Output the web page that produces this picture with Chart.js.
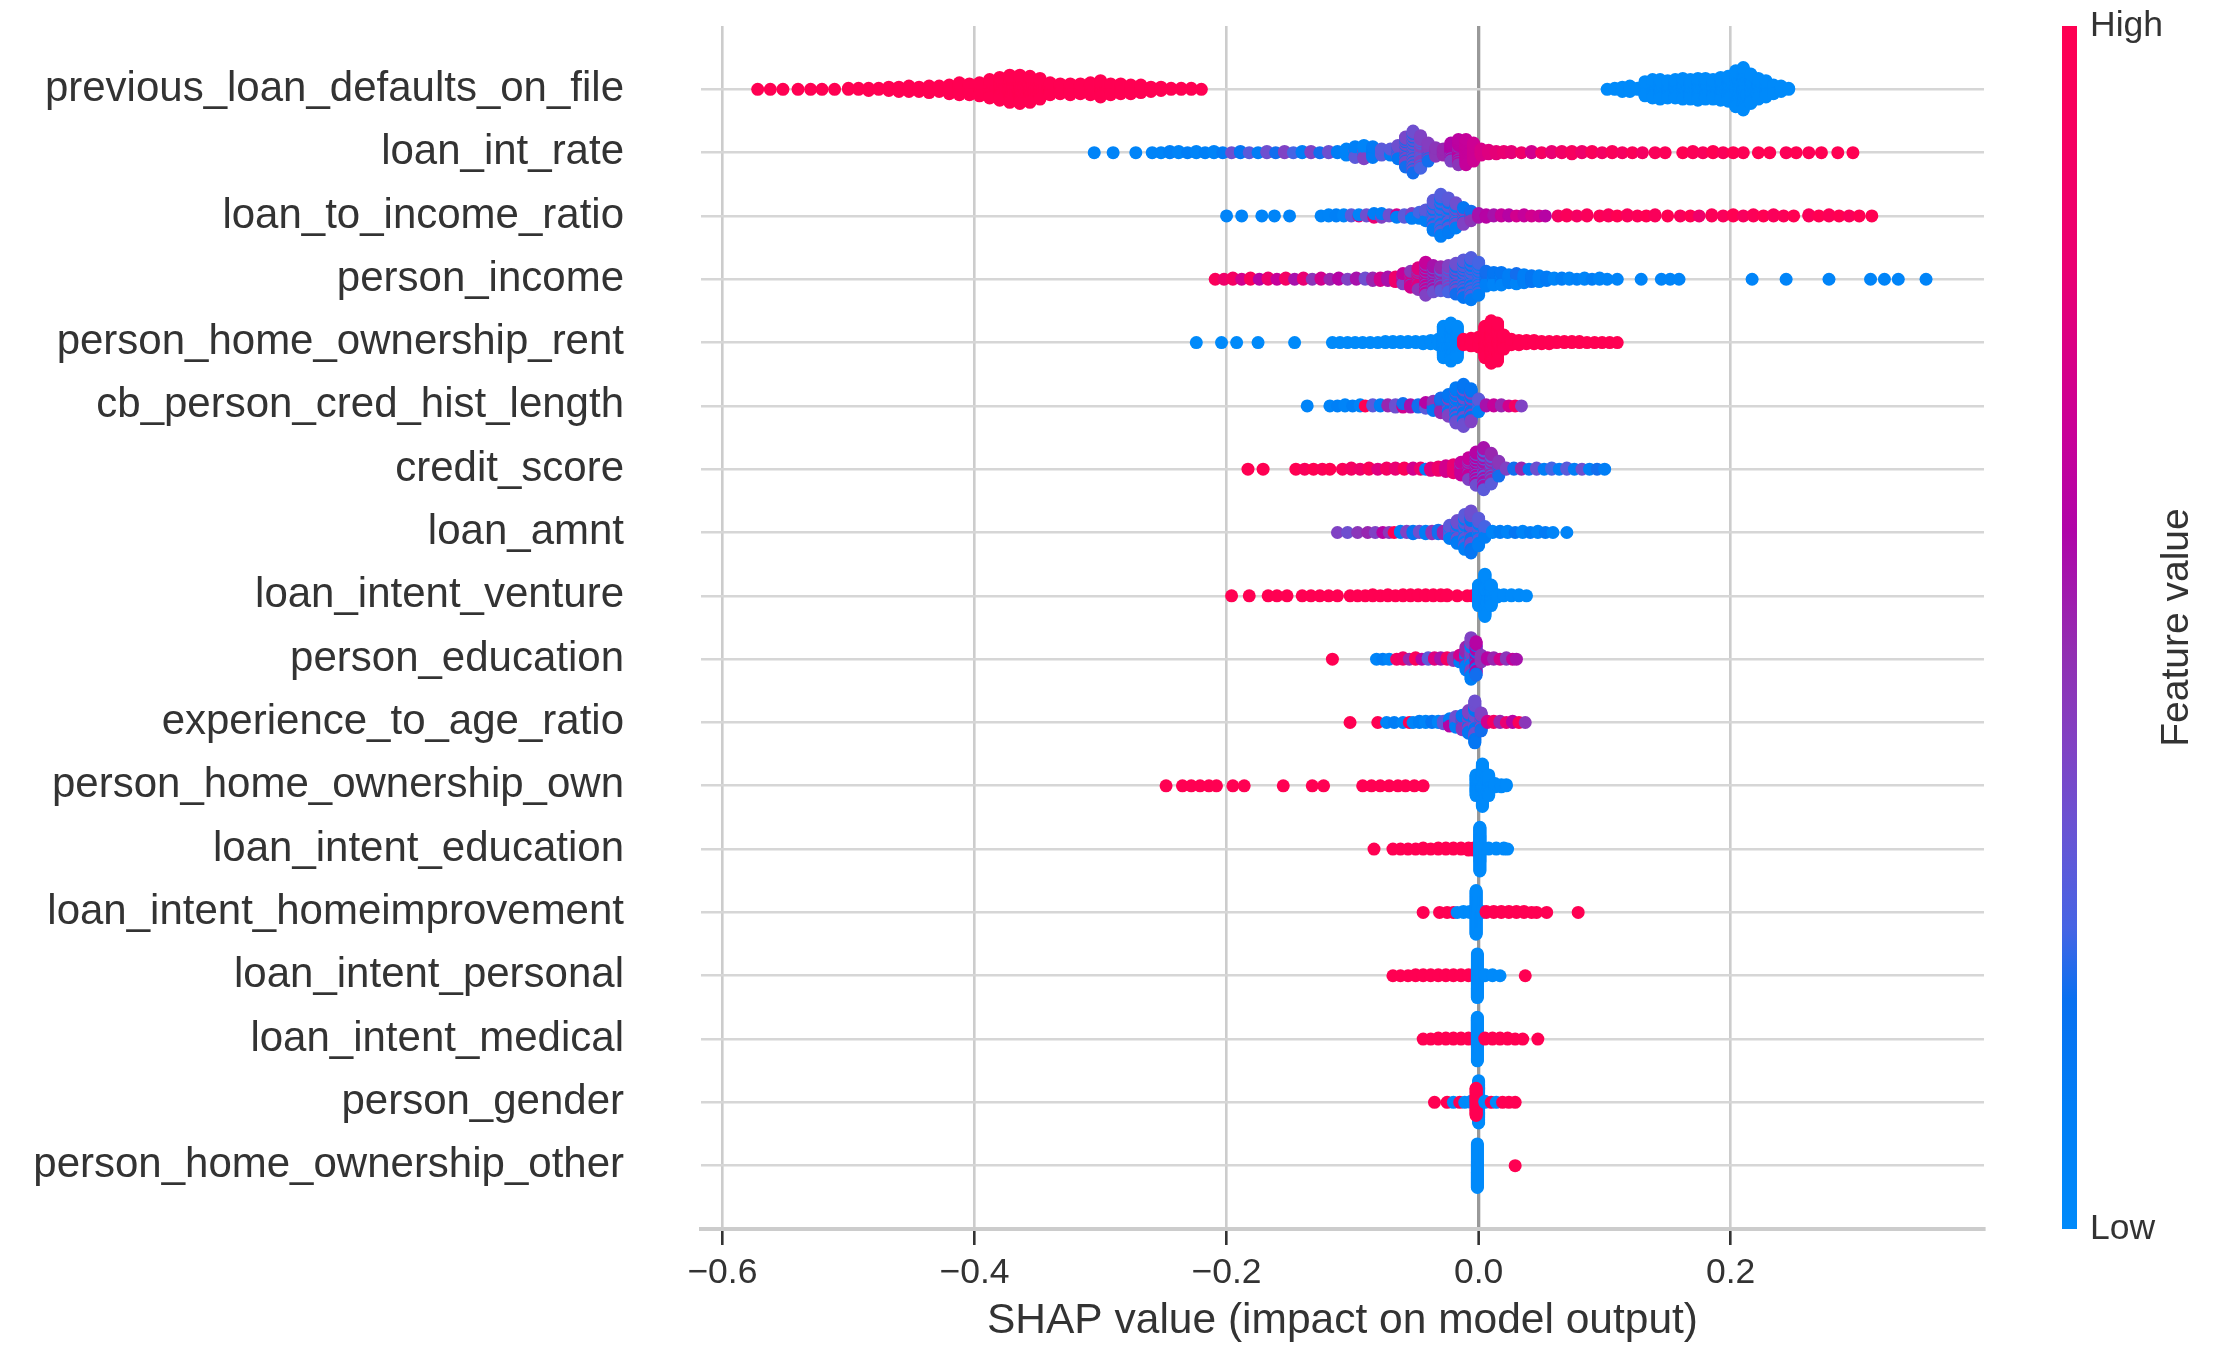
<!DOCTYPE html>
<html>
<head>
<meta charset="utf-8">
<script src="https://cdn.jsdelivr.net/npm/chart.js@4.4.1/dist/chart.umd.min.js"></script>
<style>
  html, body { margin: 0; padding: 0; background: #fff; }
  #wrap { width: 2214px; height: 1361px; }
</style>
</head>
<body>
<div id="wrap"><canvas id="shapChart" width="2214" height="1361"></canvas></div>
<script>
const features = [
  'previous_loan_defaults_on_file', 'loan_int_rate', 'loan_to_income_ratio', 'person_income',
  'person_home_ownership_rent', 'cb_person_cred_hist_length', 'credit_score', 'loan_amnt',
  'loan_intent_venture', 'person_education', 'experience_to_age_ratio', 'person_home_ownership_own',
  'loan_intent_education', 'loan_intent_homeimprovement', 'loan_intent_personal', 'loan_intent_medical',
  'person_gender', 'person_home_ownership_other'
];
const xTicks = [-0.6, -0.4, -0.2, 0.0, 0.2];
const xTickLabels = ['\u22120.6', '\u22120.4', '\u22120.2', '0.0', '0.2'];

// entries: [SHAP value, number of samples, feature value (0 = low, 1 = high)]
const previousLoanDefaultsOnFile = [
  [-0.572,1,1],[-0.562,1,1],[-0.552,1,1],[-0.540,1,1],[-0.530,1,1],[-0.521,1,1],[-0.511,1,1],
  [-0.500,2,1],[-0.492,2,1],[-0.484,3,1],[-0.476,2,1],[-0.468,4,1],[-0.460,5,1],[-0.452,6,1],[-0.444,5,1],
  [-0.436,7,1],[-0.428,6,1],[-0.420,9,1],[-0.412,12,1],[-0.404,11,1],[-0.396,13,1],[-0.388,18,1],[-0.380,22,1],
  [-0.372,26,1],[-0.364,27,1],[-0.356,25,1],[-0.348,20,1],[-0.340,12,1],[-0.332,10,1],[-0.324,11,1],[-0.316,10,1],
  [-0.308,12,1],[-0.300,16,1],[-0.292,11,1],[-0.284,10,1],[-0.276,9,1],[-0.268,8,1],[-0.260,5,1],[-0.252,4,1],
  [-0.244,2,1],[-0.236,2,1],[-0.228,2,1],[-0.220,1,1],
  [0.102,1,0],[0.108,2,0],[0.114,5,0],[0.120,6,0],[0.126,2,0],[0.132,14,0],[0.138,18,0],[0.144,19,0],
  [0.150,17,0],[0.156,18,0],[0.162,20,0],[0.168,19,0],[0.174,21,0],[0.180,20,0],[0.186,19,0],[0.192,22,0],
  [0.198,24,0],[0.204,34,0],[0.210,40,0],[0.216,28,0],[0.222,20,0],[0.228,16,0],[0.234,9,0],[0.240,6,0],[0.246,2,0]
];
const loanIntRate = [
  [-0.305,1,.05],[-0.290,1,.05],[-0.272,1,.05],[-0.259,1,.05],[-0.252,1,.05],[-0.245,2,.08],[-0.238,2,.05],
  [-0.231,1,.1],[-0.224,2,.05],[-0.217,1,.08],[-0.210,2,.06],[-0.203,1,.12],
  [-0.196,1,.35],[-0.189,2,.15],[-0.182,1,.3],[-0.175,1,.1],[-0.168,2,.35],[-0.161,1,.2],[-0.154,2,.4],
  [-0.147,1,.25],[-0.140,2,.1],[-0.133,2,.4],[-0.126,1,.2],[-0.119,2,.35],[-0.112,2,.1],
  [-0.105,6,.06],[-0.098,6,.08],[-0.098,4,.3],[-0.091,7,.05],[-0.091,5,.4],[-0.084,10,.12],[-0.077,6,.3],
  [-0.070,4,.3],[-0.070,2,.1],[-0.064,8,.35],[-0.064,4,.15],[-0.058,18,.38],[-0.058,8,.2],[-0.052,24,.35],
  [-0.052,12,.2],[-0.046,20,.4],[-0.046,8,.25],[-0.040,12,.42],[-0.040,4,.2],[-0.034,8,.45],[-0.028,6,.5],
  [-0.022,12,.58],[-0.022,4,.4],[-0.016,16,.62],[-0.016,6,.45],[-0.010,22,.65],[-0.004,16,.68],[0.002,6,.72],
  [0.008,4,.75],[0.014,3,.78],[0.020,2,.8],
  [0.026,2,.78],[0.034,1,.85],[0.042,2,.7],[0.050,1,.9],[0.058,2,.8],[0.066,2,.88],[0.074,3,.92],[0.082,2,.85],
  [0.090,2,.95],[0.098,1,.9],[0.106,2,.95],[0.114,1,.92],[0.122,1,.96],[0.130,1,.9],[0.140,1,.95],[0.148,1,.97],
  [0.162,1,1],[0.170,2,.97],[0.178,1,.95],[0.186,2,1],[0.194,1,.96],[0.202,1,1],[0.210,1,.98],[0.222,1,1],
  [0.231,1,1],[0.244,1,.97],[0.252,1,1],[0.262,1,.98],[0.272,1,1],[0.285,1,1],[0.297,1,1]
];
const loanToIncomeRatio = [
  [-0.200,1,.05],[-0.188,1,.05],[-0.172,1,.05],[-0.162,1,.05],[-0.150,1,.05],
  [-0.125,1,.05],[-0.119,2,.05],[-0.113,2,.08],[-0.107,2,.05],[-0.101,2,.3],[-0.095,1,.75],[-0.095,1,.05],
  [-0.089,2,.35],[-0.083,3,.1],[-0.083,1,.8],[-0.077,2,.4],[-0.077,2,.1],[-0.071,2,.35],[-0.065,2,.1],
  [-0.065,1,.7],[-0.059,3,.3],[-0.053,3,.1],[-0.053,2,.4],[-0.047,4,.25],[-0.047,2,.1],
  [-0.042,6,.3],[-0.042,4,.1],[-0.036,16,.3],[-0.036,10,.12],[-0.030,22,.28],[-0.030,14,.1],[-0.024,18,.3],
  [-0.024,12,.12],[-0.018,14,.35],[-0.018,8,.1],[-0.012,10,.4],[-0.012,5,.15],[-0.006,6,.45],[-0.006,3,.2],
  [0.000,4,.55],[0.006,3,.6],[0.012,2,.55],[0.018,2,.65],[0.024,2,.6],[0.030,1,.7],[0.036,2,.65],[0.042,1,.7],
  [0.048,1,.68],[0.053,1,.6],
  [0.063,1,.9],[0.070,2,.95],[0.078,1,.9],[0.086,2,.95],[0.096,1,.97],[0.103,2,.95],[0.110,1,1],[0.118,2,.95],
  [0.126,1,.97],[0.133,1,1],[0.140,2,.95],[0.150,1,1],[0.160,1,.95],[0.168,1,1],[0.175,1,.85],[0.185,2,.97],
  [0.194,1,.95],[0.202,2,1],[0.210,1,.93],[0.218,2,.97],[0.226,1,1],[0.234,2,.95],[0.242,1,.97],[0.250,1,1],
  [0.262,2,.95],[0.270,1,1],[0.278,2,.97],[0.286,1,1],[0.294,1,.95],[0.302,1,1],[0.312,1,1]
];
const personIncome = [
  [-0.209,1,.95],[-0.202,1,.85],[-0.195,2,.9],[-0.188,1,.7],[-0.181,2,.95],[-0.174,1,.6],[-0.167,2,.85],
  [-0.160,1,.65],[-0.153,2,.9],[-0.146,1,.55],[-0.139,2,.8],[-0.132,1,.45],[-0.125,2,.7],[-0.118,1,.5],
  [-0.111,2,.6],[-0.104,1,.4],[-0.097,2,.55],[-0.090,2,.35],
  [-0.084,3,.5],[-0.078,3,.7],[-0.072,4,.55],[-0.066,5,.85],[-0.060,7,.65],[-0.060,3,.4],[-0.054,10,.7],
  [-0.054,5,.45],[-0.048,14,.75],[-0.048,6,.45],[-0.042,20,.65],[-0.042,10,.4],[-0.036,16,.55],[-0.036,8,.35],
  [-0.030,14,.5],[-0.030,8,.3],[-0.024,16,.4],[-0.024,8,.25],[-0.018,18,.35],[-0.018,10,.2],[-0.012,22,.3],
  [-0.012,12,.15],[-0.006,24,.28],[-0.006,14,.12],[0.000,20,.25],[0.000,10,.1],[0.006,8,.2],[0.006,6,.08],
  [0.012,7,.15],[0.012,5,.05],[0.018,8,.15],[0.018,4,.05],[0.024,8,.1],[0.030,6,.2],[0.030,4,.05],[0.036,8,.1],
  [0.042,6,.15],[0.048,6,.08],[0.054,4,.12],[0.060,2,.05],[0.066,2,.1],[0.072,2,.05],[0.078,1,.08],[0.084,2,.05],
  [0.090,1,.1],[0.096,2,.05],[0.102,1,.05],[0.110,1,.05],
  [0.129,1,.05],[0.145,1,.05],[0.152,1,.05],[0.159,1,.05],[0.217,1,.05],[0.244,1,.05],[0.278,1,.05],
  [0.311,1,.05],[0.322,1,.05],[0.333,1,.05],[0.355,1,.05]
];
const personHomeOwnershipRent = [
  [-0.224,1,0],[-0.204,1,0],[-0.192,1,0],[-0.175,1,0],[-0.146,1,0],[-0.116,1,0],[-0.110,1,0],[-0.104,1,0],
  [-0.098,1,0],[-0.092,1,0],[-0.086,1,0],[-0.080,1,0],[-0.074,2,0],[-0.068,2,0],[-0.062,2,0],[-0.056,2,0],
  [-0.050,2,0],[-0.044,3,0],[-0.038,4,0],[-0.032,6,0],[-0.028,30,0],[-0.022,36,0],[-0.017,30,0],
  [-0.012,6,1],[-0.006,8,1],[0.000,10,1],[0.005,30,1],[0.010,40,1],[0.015,36,1],[0.020,14,1],[0.026,6,1],
  [0.032,5,1],[0.038,4,1],[0.044,4,1],[0.050,3,1],[0.056,3,1],[0.062,2,1],[0.068,2,1],[0.074,2,1],[0.080,2,1],
  [0.086,1,1],[0.092,1,1],[0.098,1,1],[0.104,1,1],[0.110,1,1]
];
const cbPersonCredHistLength = [
  [-0.136,1,.05],[-0.118,1,.05],[-0.112,1,.08],[-0.106,2,.05],[-0.100,1,.1],[-0.094,2,.05],[-0.090,1,1],
  [-0.084,2,.3],[-0.078,2,.1],[-0.072,2,.5],[-0.066,3,.35],[-0.060,2,.7],[-0.060,2,.2],[-0.054,3,.55],
  [-0.048,3,.2],[-0.042,4,.6],[-0.042,2,.3],[-0.036,5,.15],[-0.036,4,.45],[-0.030,8,.2],[-0.030,6,.5],
  [-0.024,12,.15],[-0.024,8,.4],[-0.018,20,.12],[-0.018,12,.35],[-0.012,22,.15],[-0.012,16,.35],
  [-0.006,18,.15],[-0.006,12,.4],[0.000,8,.3],[0.000,4,.1],
  [0.006,2,.55],[0.012,2,.65],[0.018,2,.5],[0.024,1,.7],[0.029,1,.9],[0.034,1,.4]
];
const creditScore = [
  [-0.183,1,1],[-0.171,1,1],[-0.145,1,1],[-0.138,1,.95],[-0.131,1,1],[-0.124,1,.97],[-0.118,1,1],
  [-0.108,1,.95],[-0.101,2,.9],[-0.094,1,.85],[-0.087,2,.95],[-0.080,1,.75],[-0.073,2,.9],[-0.066,2,.8],
  [-0.059,2,.95],[-0.052,2,.7],[-0.046,2,.85],[-0.042,1,.1],[-0.038,3,.75],[-0.032,4,.85],[-0.026,6,.7],
  [-0.020,8,.8],[-0.014,10,.65],[-0.014,2,.4],
  [-0.008,14,.65],[-0.008,6,.4],[-0.002,20,.6],[-0.002,10,.35],[0.004,24,.55],[0.004,14,.3],[0.010,18,.5],
  [0.010,10,.3],[0.016,10,.45],[0.016,4,.2],
  [0.022,2,.4],[0.028,2,.2],[0.034,2,.5],[0.040,1,.15],[0.046,2,.35],[0.052,1,.1],[0.058,2,.25],[0.064,1,.1],
  [0.070,2,.3],[0.076,1,.1],[0.082,1,.35],[0.088,1,.08],[0.094,1,.2],[0.100,1,.1]
];
const loanAmnt = [
  [-0.112,1,.4],[-0.104,1,.35],[-0.096,1,.45],[-0.088,1,.5],[-0.082,1,.4],[-0.076,1,.6],[-0.071,1,.45],
  [-0.067,1,1],[-0.062,2,.1],[-0.057,2,.4],[-0.052,3,.15],[-0.047,2,.35],[-0.042,3,.1],[-0.037,3,.45],
  [-0.032,4,.2],[-0.028,3,.5],
  [-0.023,8,.3],[-0.023,4,.1],[-0.017,12,.35],[-0.017,8,.12],[-0.011,18,.3],[-0.011,12,.1],[-0.006,20,.35],
  [-0.006,16,.15],[0.000,14,.3],[0.000,10,.1],[0.005,6,.25],[0.005,4,.1],
  [0.011,2,.05],[0.017,2,.1],[0.023,2,.05],[0.029,1,.15],[0.035,2,.05],[0.041,1,.1],[0.047,2,.05],
  [0.053,1,.12],[0.059,1,.05],[0.070,1,.05]
];
const loanIntentVenture = [
  [-0.196,1,1],[-0.182,1,1],[-0.167,1,1],[-0.160,1,1],[-0.152,1,1],[-0.140,1,1],[-0.133,1,1],[-0.126,1,1],
  [-0.119,1,1],[-0.112,1,1],[-0.102,1,1],[-0.096,1,1],[-0.090,1,1],[-0.084,2,1],[-0.078,1,1],[-0.072,2,1],
  [-0.066,1,1],[-0.060,2,1],[-0.054,2,1],[-0.048,2,1],[-0.042,2,1],[-0.036,2,1],[-0.030,2,1],[-0.025,2,1],
  [-0.017,1,1],[-0.009,1,1],[-0.005,1,1],
  [0.000,20,0],[0.005,40,0],[0.010,20,0],[0.015,3,0],[0.020,2,0],[0.026,2,0],[0.032,2,0],[0.038,1,0]
];
const personEducation = [
  [-0.116,1,1],[-0.081,1,.05],[-0.076,1,.1],[-0.071,1,.05],[-0.065,1,.9],[-0.060,2,.85],[-0.055,1,.5],
  [-0.050,2,.95],[-0.045,1,.6],[-0.040,2,.3],[-0.035,2,.75],[-0.030,2,.55],[-0.025,2,.9],[-0.020,3,.45],
  [-0.015,4,.7],[-0.015,2,.1],
  [-0.010,10,.5],[-0.010,8,.1],[-0.006,18,.4],[-0.006,14,.1],[-0.002,16,.6],[-0.002,10,.2],[0.002,6,.45],
  [0.007,2,.6],[0.012,2,.5],[0.017,1,.7],[0.022,2,.45],[0.027,1,.65],[0.030,1,.55]
];
const experienceToAgeRatio = [
  [-0.102,1,1],[-0.080,1,1],[-0.073,1,.05],[-0.067,1,.1],[-0.060,1,.05],[-0.055,1,1],[-0.052,1,.05],
  [-0.047,2,.1],[-0.042,2,.05],[-0.037,2,.15],[-0.032,2,.05],[-0.028,3,.3],[-0.023,4,.6],[-0.023,3,.1],
  [-0.018,6,.35],[-0.018,4,.1],[-0.013,8,.45],[-0.013,5,.15],
  [-0.008,12,.4],[-0.008,8,.15],[-0.003,20,.35],[-0.003,16,.15],[0.002,10,.4],[0.002,6,.2],
  [0.007,2,.7],[0.012,2,.9],[0.017,2,.5],[0.022,1,.8],[0.027,2,.6],[0.032,1,.95],[0.037,1,.45]
];
const personHomeOwnershipOwn = [
  [-0.248,1,1],[-0.235,1,1],[-0.228,1,1],[-0.221,1,1],[-0.214,1,1],[-0.208,1,1],[-0.195,1,1],[-0.186,1,1],
  [-0.155,1,1],[-0.132,1,1],[-0.123,1,1],[-0.092,1,1],[-0.085,1,1],[-0.078,1,1],[-0.071,1,1],[-0.064,1,1],
  [-0.058,1,1],[-0.051,1,1],[-0.044,1,1],
  [-0.002,20,0],[0.003,40,0],[0.008,20,0],[0.013,4,0],[0.018,3,0],[0.022,2,0]
];
const loanIntentEducation = [
  [-0.083,1,1],[-0.068,1,1],[-0.062,1,1],[-0.056,1,1],[-0.050,1,1],[-0.044,2,1],[-0.038,1,1],[-0.032,2,1],
  [-0.026,2,1],[-0.020,2,1],[-0.014,2,1],[-0.008,3,1],[-0.004,3,1],
  [0.001,45,0],[0.008,2,0],[0.014,2,0],[0.020,2,0],[0.023,1,0]
];
const loanIntentHomeimprovement = [
  [-0.044,1,1],[-0.031,1,1],[-0.025,1,1],[-0.020,1,1],[-0.017,1,0],[-0.012,2,0],[-0.007,2,0],
  [-0.002,45,0],[0.003,2,0],
  [0.006,2,1],[0.012,2,1],[0.018,2,1],[0.024,2,1],[0.030,2,1],[0.036,2,1],[0.042,1,1],[0.046,1,1],
  [0.054,1,1],[0.079,1,1]
];
const loanIntentPersonal = [
  [-0.068,1,1],[-0.062,1,1],[-0.056,1,1],[-0.050,2,1],[-0.044,2,1],[-0.038,2,1],[-0.032,2,1],[-0.026,2,1],
  [-0.020,2,1],[-0.014,2,1],[-0.008,2,1],
  [-0.001,45,0],[0.005,2,0],[0.011,2,0],[0.017,1,0],[0.037,1,1]
];
const loanIntentMedical = [
  [-0.044,1,1],[-0.038,1,1],[-0.032,2,1],[-0.026,2,1],[-0.020,2,1],[-0.014,2,1],[-0.008,2,1],
  [-0.001,45,0],
  [0.005,2,1],[0.011,2,1],[0.017,2,1],[0.023,2,1],[0.029,1,1],[0.035,1,1],[0.047,1,1]
];
const personGender = [
  [-0.035,1,1],[-0.025,1,1],[-0.020,1,0],[-0.015,1,1],[-0.011,1,0],[-0.006,2,0],
  [0.000,40,0],[-0.002,26,1],
  [0.005,2,0],[0.010,1,1],[0.014,1,0],[0.019,1,1],[0.024,1,1],[0.029,1,1]
];
const personHomeOwnershipOther = [
  [-0.001,45,0],[0.029,1,1]
];

const rows = [
  previousLoanDefaultsOnFile, loanIntRate, loanToIncomeRatio, personIncome, personHomeOwnershipRent,
  cbPersonCredHistLength, creditScore, loanAmnt, loanIntentVenture, personEducation, experienceToAgeRatio,
  personHomeOwnershipOwn, loanIntentEducation, loanIntentHomeimprovement, loanIntentPersonal,
  loanIntentMedical, personGender, personHomeOwnershipOther
];

const FONT = '"Liberation Sans", Arial, Helvetica, sans-serif';
const TEXT = '#333333';

// red_blue colour map (low -> high)
const cmap = [
  [0.00, 0, 138, 250], [0.10, 0, 126, 246], [0.19, 8, 112, 240], [0.25, 70, 100, 228],
  [0.32, 100, 86, 214], [0.40, 128, 66, 196], [0.48, 146, 46, 178], [0.58, 176, 4, 168],
  [0.66, 200, 0, 152], [0.80, 234, 0, 114], [1.00, 255, 0, 82]
];
function colorFor(v) {
  for (let i = 1; i < cmap.length; i++) {
    if (v <= cmap[i][0]) {
      const a = cmap[i - 1], b = cmap[i], t = (v - a[0]) / (b[0] - a[0]);
      const c = [1, 2, 3].map(j => Math.round(a[j] + (b[j] - a[j]) * t));
      return 'rgb(' + c.join(',') + ')';
    }
  }
  return 'rgb(255,0,82)';
}

// stack samples that share a SHAP value, like shap's beeswarm layout
function beeswarm(entries, rowPos) {
  const bins = new Map();
  entries.forEach(([x, n, v], j) => {
    const key = x.toFixed(4);
    if (!bins.has(key)) bins.set(key, []);
    bins.get(key).push({x, n, v, j});
  });
  let maxCount = 0;
  bins.forEach(list => { maxCount = Math.max(maxCount, list.reduce((s, e) => s + e.n, 0)); });
  const step = 0.9 * 0.4 / (Math.ceil((maxCount - 1) / 2) + 1);
  const pts = [];
  bins.forEach(list => {
    const order = [];
    list.forEach(e => { for (let k = 0; k < e.n; k++) order.push({r: (k + 0.5) / e.n, j: e.j, x: e.x, v: e.v}); });
    order.sort((a, b) => a.r - b.r || a.j - b.j);
    order.forEach((p, layer) => {
      const off = Math.ceil(layer / 2) * (layer % 2 ? 1 : -1);
      pts.push({x: p.x, y: rowPos + off * step, v: p.v});
    });
  });
  return pts;
}

const datasets = rows.map((entries, k) => {
  const pts = beeswarm(entries, features.length - 1 - k);
  return {
    label: features[k],
    data: pts.map(p => ({x: p.x, y: p.y})),
    backgroundColor: pts.map(p => colorFor(p.v)),
    pointRadius: 6.5,
    pointHoverRadius: 6.5,
    pointBorderWidth: 0,
    borderWidth: 0
  };
});

const colorbar = {
  id: 'colorbar',
  afterDraw(chart) {
    const {ctx, chartArea} = chart;
    const top = chartArea.top, bottom = chartArea.bottom;
    const g = ctx.createLinearGradient(0, bottom, 0, top);
    cmap.forEach(s => g.addColorStop(s[0], 'rgb(' + s[1] + ',' + s[2] + ',' + s[3] + ')'));
    ctx.save();
    ctx.fillStyle = g;
    ctx.fillRect(2062, top, 15, bottom - top);
    ctx.fillStyle = TEXT;
    ctx.font = '35.5px ' + FONT;
    ctx.textAlign = 'left';
    ctx.textBaseline = 'middle';
    ctx.fillText('High', 2090, top);
    ctx.fillText('Low', 2090, bottom);
    ctx.translate(2177, (top + bottom) / 2);
    ctx.rotate(-Math.PI / 2);
    ctx.textAlign = 'center';
    ctx.font = '39px ' + FONT;
    ctx.fillText('Feature value', 0, 0);
    ctx.restore();
  }
};

new Chart(document.getElementById('shapChart'), {
  type: 'scatter',
  data: {datasets},
  options: {
    responsive: false,
    animation: false,
    devicePixelRatio: 1,
    events: [],
    layout: {padding: {left: 0, top: 26, right: 230, bottom: 0}},
    plugins: {legend: {display: false}, tooltip: {enabled: false}},
    scales: {
      x: {
        type: 'linear',
        min: -0.617,
        max: 0.401,
        afterBuildTicks: s => { s.ticks = xTicks.map(v => ({value: v})); },
        afterFit: s => { s.height = 132; },
        ticks: {
          callback: (v, i) => xTickLabels[i],
          font: {family: FONT, size: 35.5},
          color: TEXT,
          padding: 7,
          maxRotation: 0,
          autoSkip: false
        },
        grid: {
          color: c => (c.tick && c.tick.value === 0 ? '#999999' : '#cccccc'),
          lineWidth: c => (c.tick && c.tick.value === 0 ? 3.3 : 2.6),
          drawTicks: true,
          tickLength: 16,
          tickColor: TEXT,
          tickWidth: 2.6
        },
        border: {display: true, color: '#cccccc', width: 4},
        title: {
          display: true,
          text: 'SHAP value (impact on model output)',
          font: {family: FONT, size: 42.5},
          color: TEXT,
          padding: {top: 0, bottom: 14}
        }
      },
      y: {
        type: 'linear',
        min: -1,
        max: 18,
        afterBuildTicks: s => { s.ticks = features.map((f, k) => ({value: features.length - 1 - k})); },
        afterFit: s => { s.width = 701; },
        ticks: {
          callback: v => features[features.length - 1 - v],
          font: {family: FONT, size: 42},
          color: TEXT,
          padding: 0,
          autoSkip: false
        },
        grid: {
          color: '#d6d6d6',
          lineWidth: 2.6,
          drawTicks: true,
          tickLength: 77,
          tickColor: 'rgba(0,0,0,0)'
        },
        border: {display: false}
      }
    }
  },
  plugins: [colorbar]
});
</script>
</body>
</html>
